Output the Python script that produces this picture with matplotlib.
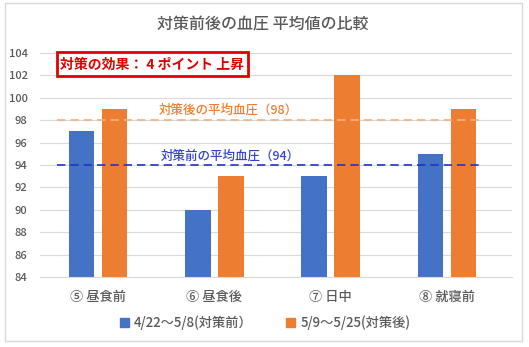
import matplotlib
matplotlib.use("Agg")
import matplotlib.pyplot as plt
from matplotlib.patches import Patch, Rectangle
import numpy as np

plt.rcParams["font.family"] = ["Noto Sans CJK JP", "DejaVu Sans"]

# ── Data ───────────────────────────────────────────────────────
categories = ["⑤ 昼食前", "⑥ 昼食後", "⑦ 日中", "⑧ 就寝前"]
before = [97, 90, 93, 95]
after = [99, 93, 102, 99]
avg_before = 94
avg_after = 98
series_labels = ["4/22～5/8(対策前）", "5/9～5/25(対策後)"]
yticks = np.arange(84, 105, 2)

BLUE = "#4472C4"
ORANGE = "#ED7D31"
GRAY = "#595959"
W, H = 529, 347

fig = plt.figure(figsize=(W / 100, H / 100), dpi=100)
fig.patches.append(Rectangle((5 / W, 1 - 341 / H), 517 / W, 338 / H,
                             transform=fig.transFigure, fill=False,
                             edgecolor="#d9d9d9", linewidth=1))

ax = fig.add_axes([40 / W, 1 - 277 / H, 472 / W, 224 / H])
x = np.arange(len(categories))
bw = 0.22
ax.bar(x - 0.142, [v - 84 for v in before], bw, bottom=84, color=BLUE, zorder=2)
ax.bar(x + 0.142, [v - 84 for v in after], bw, bottom=84, color=ORANGE, zorder=2)

ax.set_ylim(84, 104)
ax.set_xlim(-0.5, 3.56)
ax.set_yticks(yticks)
ax.set_xticks(x)
ax.set_xticklabels(categories, fontweight="medium")
ax.grid(axis="y", color="#d9d9d9", linewidth=0.8, zorder=0)
for sp in ["left", "right", "top"]:
    ax.spines[sp].set_visible(False)
ax.spines["bottom"].set_color("#d9d9d9")
ax.tick_params(axis="y", length=0, labelsize=8, labelcolor=GRAY, pad=9)
ax.tick_params(axis="x", length=0, labelsize=9.5, labelcolor=GRAY, pad=9)
for lbl in ax.get_yticklabels():
    lbl.set_fontweight("medium")

# average lines
ax.hlines(avg_after, -0.35, 3.3, colors="#F4B183", linestyles=(0, (5, 3)),
          linewidth=1.2, zorder=3)
ax.hlines(avg_before, -0.35, 3.3, colors="#2233CC", linestyles=(0, (5, 3)),
          linewidth=1.2, zorder=3)
ax.text(1.12, avg_after + 0.9, f"対策後の平均血圧（{avg_after}）", color=ORANGE,
        fontsize=9, fontweight="medium", ha="center", va="center", zorder=4)
ax.text(1.14, avg_before + 0.8, f"対策前の平均血圧（{avg_before}）", color="#3344CC",
        fontsize=9, fontweight="medium", ha="center", va="center", zorder=4)

# effect box
fig.patches.append(Rectangle((57 / W, 1 - 76 / H), 191 / W, 24 / H,
                             transform=fig.transFigure, facecolor="white",
                             edgecolor="#E00000", linewidth=2, zorder=5))
fig.text(152 / W, 1 - 64.5 / H,
         f"対策の効果： {avg_after - avg_before} ポイント 上昇",
         color="#E00000", fontsize=10, fontweight="bold",
         ha="center", va="center", zorder=6)

fig.text(263 / W, 1 - 25 / H, "対策前後の血圧 平均値の比較", color=GRAY,
         fontsize=11.5, fontweight="medium", ha="center", va="center")

handles = [Patch(color=BLUE), Patch(color=ORANGE)]
fig.legend(handles, series_labels, loc="center", ncol=2,
           bbox_to_anchor=(265 / W, 1 - 323 / H), frameon=False,
           prop={"size": 9.5, "weight": "medium"}, labelcolor=GRAY,
           handlelength=0.7, handleheight=0.7,
           handletextpad=0.4, columnspacing=2.5)

fig.savefig("out.png", dpi=100)
